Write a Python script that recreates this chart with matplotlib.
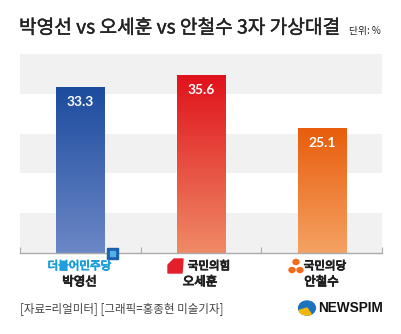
import numpy as np
import matplotlib
matplotlib.use("Agg")
import matplotlib.pyplot as plt
import matplotlib.patheffects as pe
from matplotlib.colors import LinearSegmentedColormap
from matplotlib.patches import FancyBboxPatch, Circle, Wedge, Rectangle, Polygon

plt.rcParams['font.family'] = ['Noto Sans CJK KR', 'DejaVu Sans']

# data
candidates = ["박영선", "오세훈", "안철수"]
parties = ["더불어민주당", "국민의힘", "국민의당"]
values = [33.3, 35.6, 25.1]
top_colors = ["#1c4c9e", "#e0121b", "#e85d0c"]
bottom_colors = ["#6c87c6", "#ef8a66", "#f5a263"]
party_colors = ["#1e9fdc", "#222222", "#222222"]

title = "박영선 vs 오세훈 vs 안철수 3자 가상대결"
unit = "단위: %"
source = "[자료=리얼미터] [그래픽=홍종현 미술기자]"

W, H = 401, 334


def fx(x):
    return x / W


def fy(y):
    return 1 - y / H


def heavy(color, w=0.7):
    # CJK font has no real bold here, so thicken the strokes
    return [pe.withStroke(linewidth=w, foreground=color)]


fig = plt.figure(figsize=(W / 100, H / 100), dpi=100)
fig.patch.set_facecolor("white")

ax = fig.add_axes([fx(20), fy(253), fx(382) - fx(20), fy(54) - fy(253)])
ax.set_xlim(-0.5, 2.5)
ax.set_ylim(0, 40)

# background stripes
for lo in [0, 16, 32]:
    ax.axhspan(lo, lo + 8, color="#f1f1f1", zorder=0, lw=0)

x = np.arange(len(values))
bars = ax.bar(x, values, width=0.4, color="none", zorder=2)
for b, c1, c2, v in zip(bars, top_colors, bottom_colors, values):
    cmap = LinearSegmentedColormap.from_list("g", [c2, c1])
    grad = np.linspace(0, 1, 256).reshape(-1, 1)
    ax.imshow(grad, cmap=cmap, origin="lower", aspect="auto", zorder=2,
              extent=(b.get_x(), b.get_x() + b.get_width(), 0, b.get_height()))
    ax.text(b.get_x() + b.get_width() / 2, v - 2.9, f"{v}", color="white",
            ha="center", va="center", fontsize=10, fontweight="bold",
            family=["Lato", "DejaVu Sans"], zorder=3)

ax.set_xlim(-0.5, 2.5)
ax.set_ylim(0, 40)
for s in ["top", "right", "left"]:
    ax.spines[s].set_visible(False)
ax.spines["bottom"].set_color("#aaaaaa")
ax.spines["bottom"].set_linewidth(1.0)
ax.set_yticks([])
ax.set_xticks([-0.5, 0.5, 1.5, 2.5])
ax.set_xticklabels([])
ax.tick_params(axis="x", direction="in", length=4, color="#aaaaaa", width=0.8)

# title
fig.text(fx(19), fy(28), title, fontsize=13.8, color="#222222",
         ha="left", va="center", path_effects=heavy("#222222", 0.3))
fig.text(fx(381), fy(31), unit, fontsize=7, color="#222222",
         ha="right", va="center")

# party labels and names
fig.text(fx(79.5), fy(266), parties[0], fontsize=8.3, color=party_colors[0],
         ha="center", va="center", path_effects=heavy(party_colors[0]))
fig.text(fx(209), fy(266), parties[1], fontsize=8.3, color=party_colors[1],
         ha="center", va="center", path_effects=heavy(party_colors[1]))
fig.text(fx(325), fy(266), parties[2], fontsize=8.3, color=party_colors[2],
         ha="center", va="center", path_effects=heavy(party_colors[2]))
for xc, name in zip([79.5, 200, 321.5], candidates):
    fig.text(fx(xc), fy(282), name, fontsize=9, color="#222222",
             ha="center", va="center", path_effects=heavy("#222222"))

# party icons
fig.patches.append(Rectangle((fx(107), fy(259)), fx(11), fy(248) - fy(259),
                             transform=fig.transFigure, color="#1e5fae"))
fig.patches.append(Rectangle((fx(110), fy(256)), fx(5), fy(251) - fy(256),
                             transform=fig.transFigure, color="#4fb3e6"))
red_icon = [(168, 273), (182, 273), (183, 259), (174, 259), (168, 265)]
fig.patches.append(Polygon([(fx(a), fy(b)) for a, b in red_icon],
                           closed=True, transform=fig.transFigure,
                           color="#e3202a", joinstyle="round"))
for cx, cy in [(296, 262), (292, 270), (300, 270)]:
    fig.patches.append(Circle((fx(cx), fy(cy)), 0.0075, transform=fig.transFigure,
                              color="#f26b1d"))

# footer
fig.text(fx(20), fy(309), source, fontsize=8.3, color="#444444",
         ha="left", va="center")
fig.patches.append(Circle((fx(307), fy(308)), 0.021, transform=fig.transFigure,
                          color="#1e73be"))
fig.patches.append(Wedge((fx(307), fy(308)), 0.021, 200, 300,
                         transform=fig.transFigure, color="#f2b705"))
fig.text(fx(318), fy(308), "NEWSPIM", fontsize=9.8, fontweight="bold",
         family=["Liberation Sans", "DejaVu Sans"], color="#111111",
         ha="left", va="center")

fig.savefig("out.png", dpi=100, facecolor="white")
